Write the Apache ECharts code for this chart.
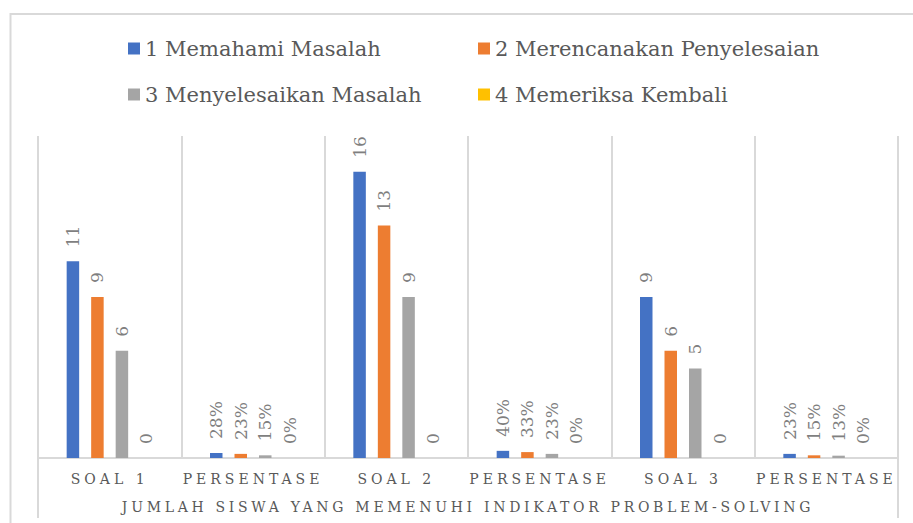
<!DOCTYPE html>
<html>
<head>
<meta charset="utf-8">
<script src="https://cdn.jsdelivr.net/npm/echarts@6/dist/echarts.min.js"></script>
<style>
html,body{margin:0;padding:0;background:#fff;}
#chart{width:913px;height:523px;}
</style>
</head>
<body>
<div id="chart"></div>
<script>
const categories = ['SOAL 1', 'PERSENTASE', 'SOAL 2', 'PERSENTASE', 'SOAL 3', 'PERSENTASE'];
const seriesNames = ['1 Memahami Masalah', '2 Merencanakan Penyelesaian', '3 Menyelesaikan Masalah', '4 Memeriksa Kembali'];
const memahami = [11, 0.28, 16, 0.40, 9, 0.23];
const merencanakan = [9, 0.23, 13, 0.33, 6, 0.15];
const menyelesaikan = [6, 0.15, 9, 0.23, 5, 0.13];
const memeriksa = [0, 0, 0, 0, 0, 0];
const axisTitle = 'JUMLAH SISWA YANG MEMENUHI INDIKATOR PROBLEM-SOLVING';
const colors = ['#4472C4', '#ED7D31', '#A5A5A5', '#FFC000'];

const FONT = "'DejaVu Serif', serif";
const seriesData = [memahami, merencanakan, menyelesaikan, memeriksa];

const chart = echarts.init(document.getElementById('chart'), null, {renderer: 'svg'});

const option = {
  animation: false,
  color: colors,
  graphic: [{
    type: 'rect',
    silent: true,
    shape: {x: 10.5, y: 14, width: 950, height: 560},
    style: {fill: 'none', stroke: '#d9d9d9', lineWidth: 2}
  }],
  legend: seriesNames.map((n, i) => ({
    data: [n],
    left: i % 2 === 0 ? 128 : 478,
    top: i < 2 ? 38 : 84,
    padding: 0,
    itemWidth: 12,
    itemHeight: 12,
    icon: 'rect',
    selectedMode: false,
    textStyle: {fontFamily: FONT, fontSize: 21, color: '#595959'}
  })),
  grid: {left: 38, right: 15, top: 136, bottom: 65, containLabel: false},
  xAxis: [{
    type: 'category',
    data: categories,
    axisLine: {show: true, lineStyle: {color: '#d9d9d9', width: 2}},
    axisTick: {show: false},
    splitLine: {show: true, lineStyle: {color: '#d9d9d9', width: 2}},
    axisLabel: {interval: 0, margin: 14, fontFamily: FONT, fontSize: 14, color: '#595959'}
  }, {
    type: 'category',
    data: [axisTitle],
    position: 'bottom',
    axisLine: {show: true, lineStyle: {color: '#d9d9d9', width: 2}},
    axisTick: {show: true, length: 60, lineStyle: {color: '#d9d9d9', width: 2}},
    splitLine: {show: false},
    axisLabel: {interval: 0, margin: 42, fontFamily: FONT, fontSize: 14, color: '#595959'}
  }],
  yAxis: {type: 'value', min: 0, max: 18, show: false},
  series: seriesNames.map((n, i) => ({
    name: n,
    type: 'bar',
    xAxisIndex: 0,
    data: seriesData[i],
    barWidth: 12.5,
    barGap: '96%',
    label: {
      show: true,
      position: 'top',
      rotate: 90,
      align: 'left',
      verticalAlign: 'middle',
      distance: 14,
      fontFamily: FONT,
      fontSize: 17,
      color: '#7f7f7f',
      formatter: p => categories[p.dataIndex] === 'PERSENTASE' ? Math.round(p.value * 100) + '%' : String(p.value)
    }
  }))
};
chart.setOption(option);

const catSet = new Set(categories);
function applySpacing() {
  document.querySelectorAll('#chart svg text').forEach(t => {
    if (catSet.has(t.textContent)) {
      t.style.letterSpacing = '4px';
    } else if (t.textContent === axisTitle) {
      t.style.letterSpacing = '3.7px';
    }
  });
}
chart.on('finished', applySpacing);
applySpacing();
setTimeout(applySpacing, 50);
</script>
</body>
</html>
